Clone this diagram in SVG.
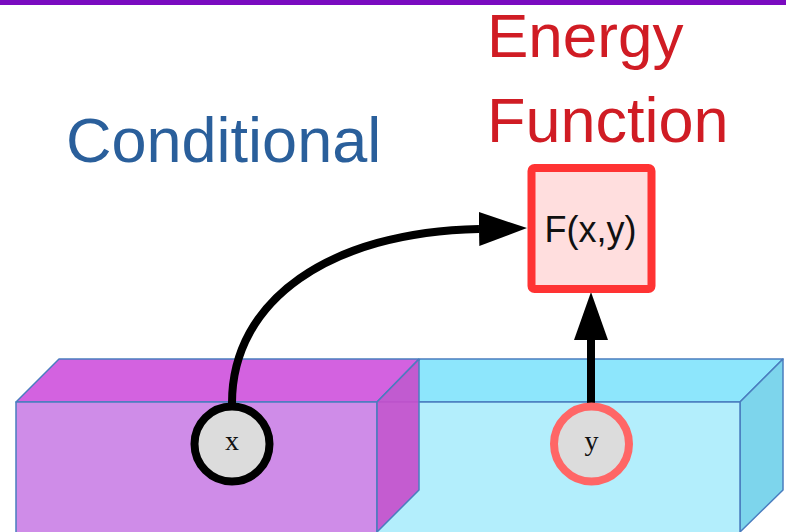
<svg xmlns="http://www.w3.org/2000/svg" width="786" height="532" viewBox="0 0 786 532">
  <defs>
    <style>
      .edge { stroke: #4a7dbf; stroke-width: 1.5; stroke-linejoin: round; }
      .title { font-family: "Liberation Sans", Arial, sans-serif; font-size: 63px; }
      .var { font-family: "Liberation Serif", "Times New Roman", serif; font-size: 28px; fill: #111; text-anchor: middle; }
      .conn { fill: none; stroke: #000; stroke-width: 8; }
    </style>
    <marker id="arrow" markerUnits="userSpaceOnUse" markerWidth="50" markerHeight="36" refX="0" refY="17" orient="auto" viewBox="0 0 50 34">
      <path d="M0,0 L48,17 L0,34 Z" fill="#000"/>
    </marker>
  </defs>
  <rect x="0" y="0" width="786" height="532" fill="#ffffff"/>
  <rect x="0" y="0" width="786" height="5" fill="#7a0bc0"/>

  <g id="box-y">
    <polygon class="edge" points="377,402 420,359 783,359 740,402" fill="#8de6fc"/>
    <polygon class="edge" points="740,402 783,359 783,490 740,532" fill="#7dd5ec"/>
    <rect class="edge" x="377" y="402" width="363" height="132" fill="#b3eefc"/>
  </g>
  <g id="box-x">
    <polygon class="edge" points="16,402 59,359 419,359 377,402" fill="#d362e0"/>
    <rect class="edge" x="16" y="402" width="361" height="132" fill="#cf8ce8"/>
    <polygon class="edge" points="377,402 419,359 419,490 377,532" fill="#c64fcc" fill-opacity="0.92"/>
  </g>

  <text id="label-conditional" class="title" x="66" y="162" fill="#2a5f9b">Conditional</text>
  <text id="label-energy" class="title" x="487" y="57" fill="#d01c24" style="font-size:62px">Energy</text>
  <text id="label-function" class="title" x="487" y="142" fill="#d01c24">Function</text>

  <g id="connectors">
    <path class="conn" d="M232,403 C232,300 330,232 479,229" marker-end="url(#arrow)"/>
    <path class="conn" d="M591,403 L591,340" marker-end="url(#arrow)"/>
  </g>

  <g id="node-x">
    <circle cx="232" cy="444" r="37.5" fill="#dcdcdc" stroke="#000" stroke-width="8"/>
    <text class="var" x="232" y="450">x</text>
  </g>
  <g id="node-y">
    <circle cx="591.5" cy="444" r="37.5" fill="#dcdcdc" stroke="#ff6666" stroke-width="8"/>
    <text class="var" x="591.5" y="450">y</text>
  </g>
  <g id="node-f">
    <rect x="531.5" y="168" width="120" height="121" rx="3" fill="#ffdede" stroke="#ff3333" stroke-width="8"/>
    <text x="590.5" y="242" font-family="'Liberation Sans', Arial, sans-serif" font-size="36" fill="#111" text-anchor="middle">F(x,y)</text>
  </g>
</svg>
